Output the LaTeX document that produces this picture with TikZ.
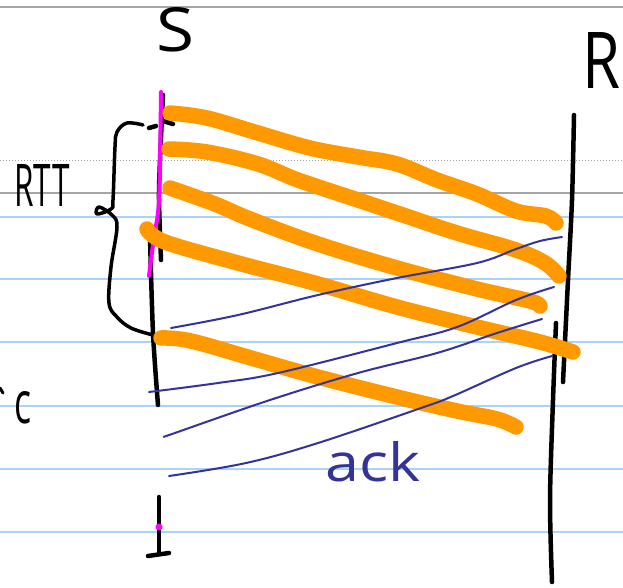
\documentclass[tikz,border=0pt]{standalone}
\usepackage{fontspec}
\setmainfont{Open Sans}
\usepackage{graphicx}
\definecolor{orng}{RGB}{255,153,0}
\definecolor{ackblue}{RGB}{51,51,153}
\definecolor{rulecol}{RGB}{170,210,250}
\definecolor{grayline}{RGB}{165,165,165}
\definecolor{mag}{RGB}{255,0,255}
\tikzset{
 ruleline/.style={draw=rulecol, line width=1.5pt},
 packet/.style={draw=orng, line width=15.5pt, line cap=round, line join=round},
 ackline/.style={draw=ackblue, line width=2pt, line cap=round, line join=round},
 pen/.style={draw=black, line width=4.5pt, line cap=round, line join=round},
 hilite/.style={draw=mag, line width=4pt, line cap=round},
 txt/.style={inner sep=0pt, anchor=center},
}
\begin{document}
\begin{tikzpicture}[x=1pt,y=-1pt]
\useasboundingbox (0,0) rectangle (623,587);
\fill[white] (0,0) rectangle (623,587);
% page rules
\draw[draw=grayline, line width=2pt] (0,7) -- (623,7);
\draw[draw=grayline, line width=1.5pt] (0,193) -- (623,193);
\draw[draw=grayline, line width=1pt, dotted] (0,160) -- (623,160);
\foreach \yy in {217,279,342,406,469,532}
  \draw[ruleline] (0,\yy) -- (623,\yy);
% labels
\node[txt] (S) at (175,30) {\resizebox{38pt}{44pt}{S}};
\node[txt] (R) at (601,60) {\resizebox{38pt}{56pt}{R}};
\node[txt] (RTT) at (42,185) {\resizebox{55pt}{42pt}{RTT}};
\node[txt] (c) at (23,408) {\resizebox{17pt}{32pt}{c}};
\node[txt, text=ackblue] (ack) at (373,462) {\resizebox{95pt}{40pt}{ack}};
\draw[pen, line width=3pt] (0,388) -- (3,393);
% sender timeline
\draw[pen] plot[smooth] coordinates {(163,95) (160,160) (159,200) (161,260)};
\draw[pen] plot[smooth] coordinates {(150,237) (153,333) (158,405)};
\draw[pen] (149,128) -- (156,126);
\draw[pen] (163,121) -- (173,124);
\draw[pen] (159,497) -- (159,553);
\draw[pen] (148,556) -- (169,553);
% receiver timeline
\draw[pen] plot[smooth] coordinates {(574,115) (572,200) (568,280) (563,382)};
\draw[pen] plot[smooth] coordinates {(556,323) (553,400) (550,500) (552,582)};
% RTT brace
\draw[pen, line width=3.5pt] plot[smooth, tension=0.6] coordinates {(143,125) (127,123) (117,132) (115,147) (113,200) (111,209) (97,214) (99,207) (112,215) (117,227) (111,267) (109,303) (117,317) (131,328) (153,335)};
% highlight
\draw[hilite] plot[smooth] coordinates {(161,92) (159,200) (154,237) (149,276)};
\fill[mag] (159,527) circle (3.5pt);
% data packets
\draw[packet] plot[smooth, tension=0.6] coordinates {(170,113) (207,118) (258,133) (310,148) (358,157) (397,164) (437,180) (477,194) (516,211) (546,216) (556,223)};
\draw[packet] plot[smooth, tension=0.6] coordinates {(169,149) (207,152) (258,164) (298,180) (358,200) (400,214) (457,233) (516,250) (545,263) (559,276)};
\draw[packet] plot[smooth, tension=0.6] coordinates {(170,188) (215,204) (250,219) (318,244) (397,268) (477,289) (530,301) (540,306)};
\draw[packet] plot[smooth, tension=0.6] coordinates {(147,229) (165,242) (238,263) (318,284) (397,307) (477,327) (540,342) (573,352)};
\draw[packet] plot[smooth, tension=0.6] coordinates {(161,338) (191,341) (258,360) (318,377) (397,397) (457,411) (497,419) (516,427)};
% acks
\draw[ackline] plot[smooth, tension=0.6] coordinates {(171,328) (238,315) (318,295) (397,278) (477,263) (516,249) (540,241) (562,237)};
\draw[ackline] plot[smooth, tension=0.6] coordinates {(149,392) (218,383) (278,373) (397,343) (457,327) (516,300) (554,287)};
\draw[ackline] plot[smooth, tension=0.6] coordinates {(169,435) (172,434) (270,400) (358,373) (437,353) (497,333) (542,319)};
\draw[ackline] plot[smooth, tension=0.6] coordinates {(169,476) (246,463) (318,443) (421,408) (453,396) (516,368) (552,356)};
\end{tikzpicture}
\end{document}
